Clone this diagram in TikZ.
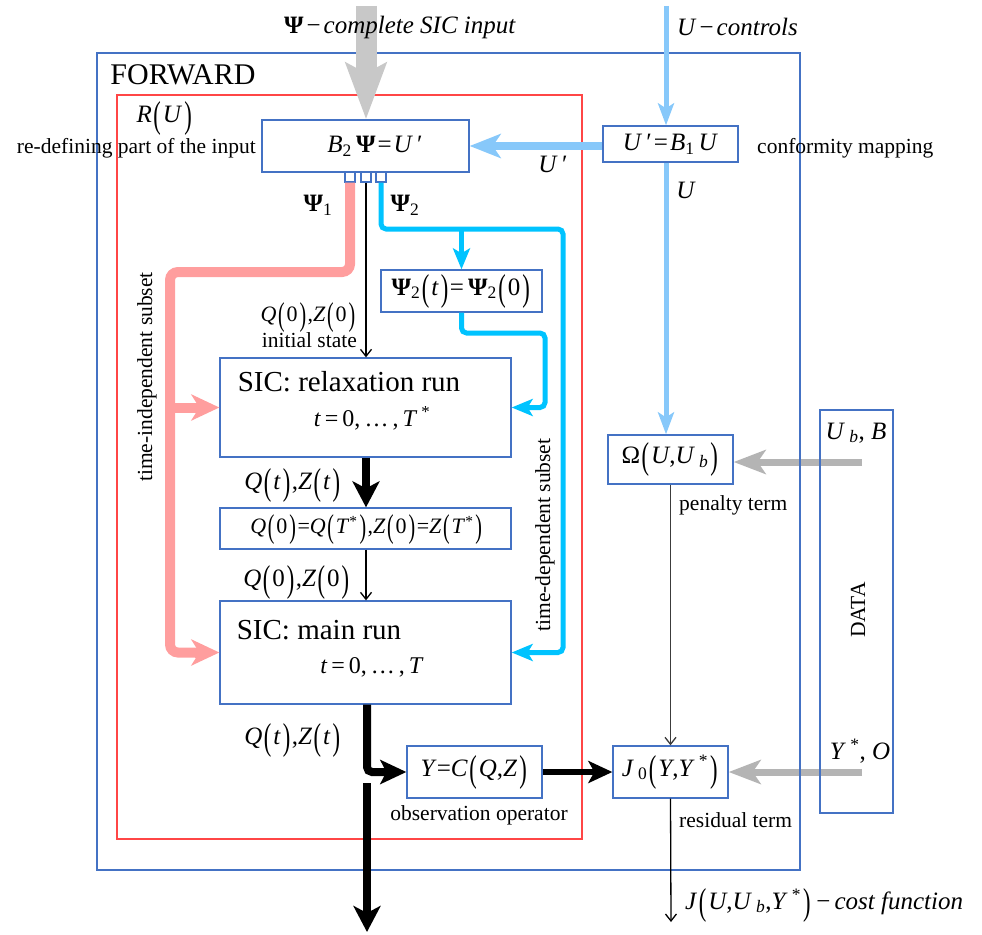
\documentclass[tikz,border=0pt]{standalone}
\usepackage{fontspec}
\setmainfont{Liberation Serif}
\usepackage{graphicx}
\usetikzlibrary{arrows.meta}
\definecolor{boxblue}{RGB}{68,114,196}
\definecolor{redbox}{RGB}{255,70,70}
\definecolor{lblue}{RGB}{135,200,250}
\definecolor{cyanl}{RGB}{0,195,255}
\definecolor{pinkl}{RGB}{255,158,158}
\definecolor{grayA}{RGB}{200,200,200}
\definecolor{grayB}{RGB}{180,180,180}
\definecolor{darkl}{RGB}{60,60,60}
\pgfdeclarelayer{bg}
\pgfsetlayers{bg,main}
\newcommand\vv[1]{\textit{#1}}
\newcommand\Ps{\textbf{Ψ}}
\newcommand\lpar{\kern1.5pt\raisebox{-0.2em}{\scalebox{0.9}[1.5]{(}}\kern2pt}
\newcommand\rpar{\kern2pt\raisebox{-0.2em}{\scalebox{0.9}[1.5]{)}}\kern1.5pt}
\newcommand\sbs[1]{\textsubscript{#1}}
\newcommand\sps[1]{\textsuperscript{#1}}
\newcommand\fs[1]{\fontsize{#1}{#1}\selectfont}
\newcommand\mminus{\kern3pt−\kern3pt}
\newcommand\meq{\kern2pt=\kern2pt}
\begin{document}
\begin{tikzpicture}[x=1pt,y=-1pt,
  box/.style={draw=boxblue,line width=1.3pt,fill=white,inner sep=0pt},
  sq/.style={draw=boxblue,line width=1.2pt,fill=white,inner sep=0pt,minimum width=10pt,minimum height=10pt},
  lab/.style={inner sep=0pt,font=\fs{21.5}},
  mlab/.style={inner sep=0pt,font=\fs{25}},
  big/.style={inner sep=0pt,font=\fs{29}},
  grayarrow/.style={draw=grayA,line width=21pt,-{Stealth[length=56pt,width=40pt,inset=10pt]}},
  dataarrow/.style={draw=grayB,line width=7pt,-{Stealth[length=32pt,width=24pt,inset=8pt]}},
  ublue/.style={draw=lblue,line width=5pt,-{Stealth[length=22pt,width=16pt,inset=5pt]}},
  upblue/.style={draw=lblue,line width=8pt,-{Stealth[length=31pt,width=24pt,inset=8pt]}},
  pinkline/.style={draw=pinkl,line width=10pt,rounded corners=8pt},
  pinkarrow/.style={draw=pinkl,line width=10pt,-{Stealth[length=28pt,width=26pt,inset=8pt]}},
  cyline/.style={draw=cyanl,line width=5pt,rounded corners=5pt},
  cyarrow/.style={draw=cyanl,line width=5pt,rounded corners=5pt,-{Stealth[length=21pt,width=17pt,inset=5pt]}},
  thinarrow/.style={draw=black,line width=1.3pt,-{Straight Barb[length=7pt,width=11pt]}},
  thickarrow/.style={draw=black,line width=8pt,-{Stealth[length=26pt,width=27pt,inset=7pt]}},
  medarrow/.style={draw=black,line width=6pt,-{Stealth[length=24pt,width=22pt,inset=6pt]}}
]
\useasboundingbox (0,0) rectangle (982,934);
% coordinates
\coordinate (psiin) at (366,6);
\coordinate (uin) at (666,6);
\coordinate (pk1) at (170,272);
\coordinate (cy1) at (563,229);
\coordinate (cy2) at (545,333);
\coordinate (ubsrc) at (862,462);
\coordinate (yosrc) at (862,772);
\coordinate (jout) at (671,922);
\coordinate (qa) at (367,772);
\coordinate (qb) at (367,783);
\coordinate (qout) at (367,932);

% nodes
\node[inner sep=0pt,font=\fs{30}] (fw) at (183,75) {FORWARD};
\node[mlab] (ru) at (165,118) {\vv{R}\lpar\vv{U}\rpar};
\node[lab,anchor=east] (redef) at (256,148) {re-defining part of the input};
\node[box,minimum width=207pt,minimum height=52pt] (B2) at (365.5,146) {};
\node[mlab] at (375,146) {\vv{B}\sbs{2}\,\Ps\meq\vv{U}\,′};
\node[box,minimum width=135pt,minimum height=36pt] (Ub1) at (670.5,144) {};
\node[mlab] at (670.5,144) {\vv{U}\,′\meq\vv{B}\sbs{1}\,\vv{U}};
\node[lab,anchor=west] (conf) at (757,148) {conformity mapping};
\node[sq] (sq1) at (350,177) {};
\node[sq] (sq2) at (366,177) {};
\node[sq] (sq3) at (381,177) {};
\node[box,minimum width=161pt,minimum height=42pt] (P2) at (461.5,291) {};
\node[mlab] at (461.5,291) {\Ps\sbs{2}\lpar\vv{t}\rpar=\,\Ps\sbs{2}\lpar0\rpar};
\node[box,minimum width=291pt,minimum height=99pt] (relax) at (365.5,407.5) {};
\node[big] at (349,382) {SIC: relaxation run};
\node[mlab] at (372,418) {\fs{24}\vv{t}\,=\,0,\,…\,,\,\vv{T}\,\sps{*}};
\node[box,minimum width=291pt,minimum height=41pt] (QT) at (365.5,528.5) {};
\node[mlab] at (367,530) {\fs{22}\vv{Q}\lpar0\rpar=\vv{Q}\lpar\vv{T}\sps{*}\rpar,\vv{Z}\lpar0\rpar=\vv{Z}\lpar\vv{T}\sps{*}\rpar};
\node[box,minimum width=291pt,minimum height=103pt] (main) at (365.5,652.5) {};
\node[big] at (319,630) {SIC: main run};
\node[mlab] at (372,667) {\fs{24}\vv{t}\,=\,0,\,…\,,\,\vv{T}};
\node[box,minimum width=135pt,minimum height=52pt] (Y) at (474.5,772) {};
\node[mlab] at (474.5,772) {\vv{Y}=\vv{C}\lpar\vv{Q},\vv{Z}\rpar};
\node[lab] (obs) at (479,815) {observation operator};
\node[box,minimum width=125pt,minimum height=49pt] (Om) at (670.5,459.5) {};
\node[mlab] at (670.5,459.5) {Ω\lpar\vv{U},\vv{U}\,\sbs{\vv{b}}\rpar};
\node[lab,anchor=west] (pen) at (679,505) {penalty term};
\node[box,minimum width=115pt,minimum height=52pt] (J0) at (670.5,772) {};
\node[mlab] at (670.5,772) {\vv{J}\,\sbs{0}\lpar\vv{Y},\vv{Y}\,\sps{*}\rpar};
\node[lab,anchor=west] (res) at (679,820) {residual term};
\node[lab,rotate=90] at (858,610) {DATA};
\node[mlab] (ubb) at (856,433) {\vv{U}\,\sbs{\vv{b}}, \vv{B}};
\node[mlab] (yo) at (860,751) {\vv{Y}\,\sps{*}, \vv{O}};

% texts outside
\node[mlab] (psit) at (400,27) {\Ps\mminus\vv{complete SIC input}};
\node[mlab,anchor=west] (ut) at (677,27) {\vv{U}\mminus\vv{controls}};
\node[mlab] at (318,205) {\Ps\sbs{1}};
\node[mlab] at (405,205) {\Ps\sbs{2}};
\node[mlab] at (553,164) {\vv{U}\,′};
\node[mlab] at (686,190) {\vv{U}};
\node[mlab,anchor=east] at (357,318) {\fs{22}\vv{Q}\lpar0\rpar,\vv{Z}\lpar0\rpar};
\node[lab,anchor=east] at (357,340) {initial state};
\node[mlab] at (293,485) {\vv{Q}\lpar\vv{t}\rpar,\vv{Z}\lpar\vv{t}\rpar};
\node[mlab] at (297,582) {\vv{Q}\lpar0\rpar,\vv{Z}\lpar0\rpar};
\node[mlab] at (293,740) {\vv{Q}\lpar\vv{t}\rpar,\vv{Z}\lpar\vv{t}\rpar};
\node[lab,rotate=90] at (147,377) {time-independent subset};
\node[lab,rotate=90] at (545,535) {time-dependent subset};
\node[mlab,anchor=west] at (685,905) {\vv{J}\lpar\vv{U},\vv{U}\,\sbs{\vv{b}},\vv{Y}\,\sps{*}\rpar\,−\,\vv{cost function}};

% background: gray data arrows, frames, top arrow
\begin{pgfonlayer}{bg}
\draw[dataarrow] (ubsrc) -- (Om.east |- ubsrc);
\draw[dataarrow] (yosrc) -- (J0.east);
\draw[boxblue,line width=1.3pt] (97,53) rectangle (800,870);
\draw[redbox,line width=1.3pt] (117,95) rectangle (582,839);
\node[box,fill=none,minimum width=73pt,minimum height=403pt] (data) at (856.5,611.5) {};
\draw[grayarrow] (psiin) -- (psiin |- B2.north);
\end{pgfonlayer}

% connectors
\draw[ublue] (uin) -- (uin |- Ub1.north);
\draw[upblue] (Ub1.west |- B2.east) -- (B2.east);
\draw[ublue] (uin |- Ub1.south) -- (uin |- Om.north);
\draw[thinarrow,draw=darkl] (Om.south) -- (J0.north);
\draw[thinarrow] (J0.south) -- (jout);
\draw[thinarrow] (sq2.south) -- (sq2 |- relax.north);
\draw[pinkline] (sq1.south) |- (pk1) |- ([xshift=-20pt]main.west);
\draw[pinkarrow] ([xshift=-24pt]main.west) -- (main.west);
\draw[pinkarrow] (pk1 |- relax.west) -- (relax.west);
\draw[cyline] (sq3.south) |- (cy1) |- ([xshift=16pt]main.east);
\draw[cyarrow] ([xshift=20pt]main.east) -- (main.east);
\draw[cyarrow] (P2.north |- cy1) -- (P2.north);
\draw[cyline] (P2.south) |- (cy2) |- ([xshift=16pt]relax.east);
\draw[cyarrow] ([xshift=20pt]relax.east) -- (relax.east);
\draw[thickarrow] (sq2 |- relax.south) -- (sq2 |- QT.north);
\draw[thinarrow] (sq2 |- QT.south) -- (sq2 |- main.north);
\draw[draw=black,line width=8pt,rounded corners=5pt,-{Stealth[length=26pt,width=24pt,inset=6pt]}] (qa |- main.south) -- (qa) -- (Y.west);
\draw[thickarrow] (qb) -- (qout);
\draw[medarrow] (Y.east) -- (J0.west);
\end{tikzpicture}
\end{document}
